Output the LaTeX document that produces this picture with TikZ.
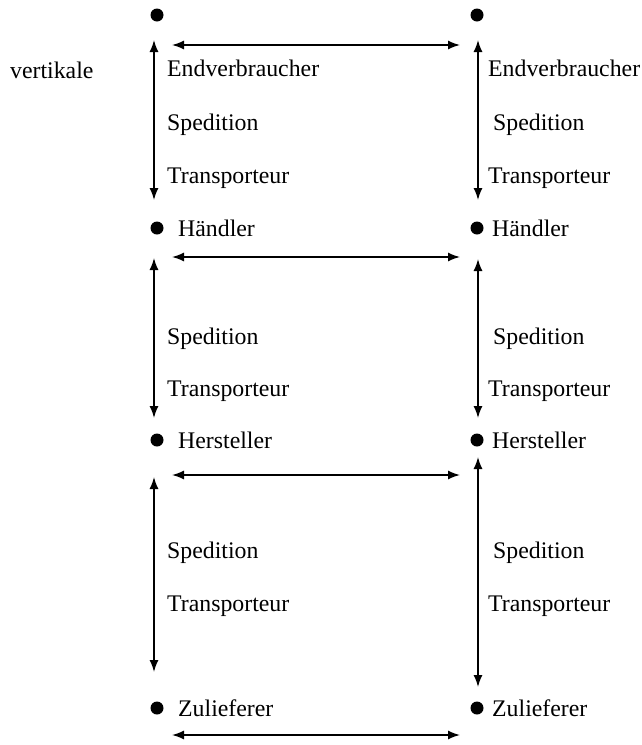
\documentclass[tikz,border=0pt]{standalone}
\usepackage{fontspec}
\setmainfont{Liberation Serif}
\usetikzlibrary{arrows.meta}
\begin{document}
\begin{tikzpicture}[x=1pt,y=-1pt,
  dot/.style={circle,fill=black,inner sep=0pt,minimum size=13pt},
  lbl/.style={anchor=base west,inner sep=0pt,font=\fontsize{23.8}{28}\selectfont},
  conn/.style={{Latex[length=12pt,width=9pt]}-{Latex[length=12pt,width=9pt]},line width=1.5pt}]
\useasboundingbox (0,0) rectangle (642,745);
% bullets
\node[dot] (l0) at (157,15) {};
\node[dot] (r0) at (477,15) {};
\node[dot] (l1) at (157,228) {};
\node[dot] (r1) at (477,228) {};
\node[dot] (l2) at (157,440) {};
\node[dot] (r2) at (477,440) {};
\node[dot] (l3) at (157,708) {};
\node[dot] (r3) at (477,708) {};
% labels
\node[lbl] (vert) at (10,78) {vertikale};
\node[lbl] (le) at (167,76) {Endverbraucher};
\node[lbl] (ls0) at (167,130) {Spedition};
\node[lbl] (lt0) at (167,183) {Transporteur};
\node[lbl] (re) at (488,76) {Endverbraucher};
\node[lbl] (rs0) at (493,130) {Spedition};
\node[lbl] (rt0) at (488,183) {Transporteur};
\node[lbl] (lh) at (178,236) {Händler};
\node[lbl] (rh) at (492,236) {Händler};
\node[lbl] (ls1) at (167,344) {Spedition};
\node[lbl] (lt1) at (167,396) {Transporteur};
\node[lbl] (rs1) at (493,344) {Spedition};
\node[lbl] (rt1) at (488,396) {Transporteur};
\node[lbl] (lher) at (178,448) {Hersteller};
\node[lbl] (rher) at (492,448) {Hersteller};
\node[lbl] (ls2) at (167,558) {Spedition};
\node[lbl] (lt2) at (167,611) {Transporteur};
\node[lbl] (rs2) at (493,558) {Spedition};
\node[lbl] (rt2) at (488,611) {Transporteur};
\node[lbl] (lz) at (178,716) {Zulieferer};
\node[lbl] (rz) at (492,716) {Zulieferer};
% arrow end points
\coordinate (h0a) at (172,45);  \coordinate (h0b) at (460,45);
\coordinate (h1a) at (172,257); \coordinate (h1b) at (460,257);
\coordinate (h2a) at (172,475); \coordinate (h2b) at (460,475);
\coordinate (h3a) at (172,735); \coordinate (h3b) at (460,735);
\coordinate (v0a) at (154,40);  \coordinate (v0b) at (154,200);
\coordinate (w0a) at (478,40);  \coordinate (w0b) at (478,200);
\coordinate (v1a) at (154,258); \coordinate (v1b) at (154,418);
\coordinate (w1a) at (478,259); \coordinate (w1b) at (478,418);
\coordinate (v2a) at (154,477); \coordinate (v2b) at (154,672);
\coordinate (w2a) at (478,457); \coordinate (w2b) at (478,687);
% connectors
\draw[conn] (h0a) -- (h0b);
\draw[conn] (h1a) -- (h1b);
\draw[conn] (h2a) -- (h2b);
\draw[conn] (h3a) -- (h3b);
\draw[conn] (v0a) -- (v0b);
\draw[conn] (w0a) -- (w0b);
\draw[conn] (v1a) -- (v1b);
\draw[conn] (w1a) -- (w1b);
\draw[conn] (v2a) -- (v2b);
\draw[conn] (w2a) -- (w2b);
\end{tikzpicture}
\end{document}
